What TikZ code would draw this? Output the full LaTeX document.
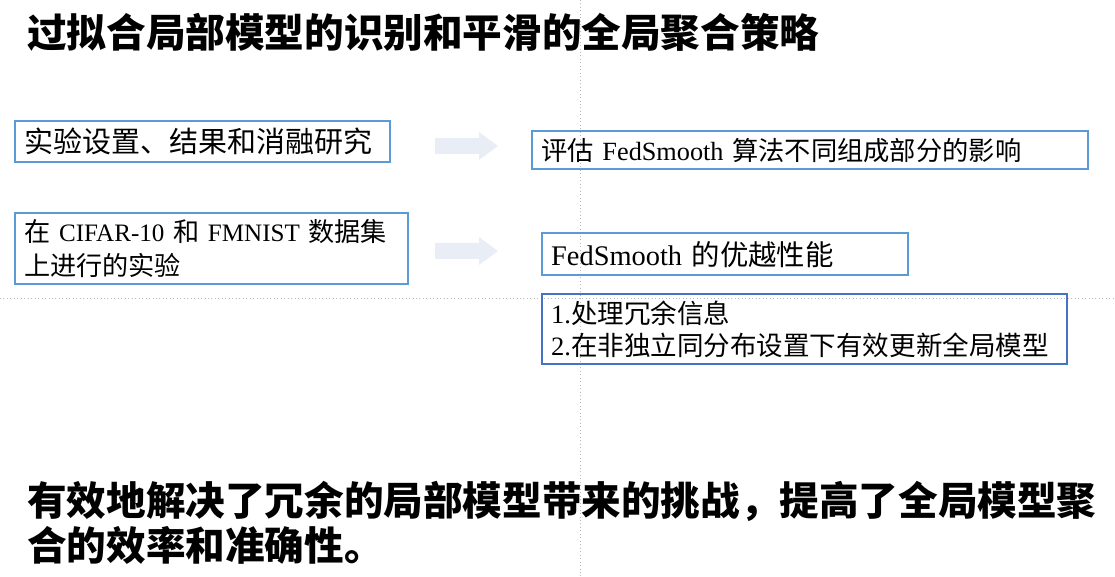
\documentclass[tikz,border=0pt]{standalone}
\usepackage{fontspec}
\setmainfont{Liberation Serif}
\newfontfamily\cjk{Noto Sans CJK SC}
\definecolor{boxblue}{HTML}{5B9BD5}
\definecolor{boxdark}{HTML}{4472C4}
\definecolor{arrowfill}{HTML}{E9EEF6}
\definecolor{guide}{HTML}{B8B8B8}
\newcommand\lat[1]{{\rmfamily #1}}
\tikzset{
  box/.style={draw=boxblue, line width=1.8pt, rectangle, anchor=north west,
    inner xsep=6.75pt, inner ysep=0pt, align=left},
  guideline/.style={draw=guide, dotted, line width=0.6pt},
  blockarrow/.style={fill=arrowfill, draw=none},
  bigtext/.style={inner sep=0pt, align=left, font=\cjk\bfseries\fontsize{29.7pt}{34pt}\selectfont}
}
\begin{document}
\begin{tikzpicture}[x=0.75pt,y=-0.75pt]
\useasboundingbox (0,0) rectangle (1115,577);
% guides
\draw[guideline] (580,0) -- (580,577);
\draw[guideline] (0,298) -- (1115,298);
% title
\node[bigtext, anchor=west] (title) at (27,32) {过拟合局部模型的识别和平滑的全局聚合策略};
% left boxes
\node[box, text width=267.75pt, minimum height=30.75pt,
  font=\cjk\fontsize{21.75pt}{26pt}\selectfont] (b1) at (14,120) {实验设置、结果和消融研究};
\node[box, text width=281.25pt, minimum height=53.25pt,
  font=\cjk\fontsize{19.6pt}{25.5pt}\selectfont] (b2) at (14,212)
  {在 \lat{\fontsize{18.8pt}{25.5pt}\selectfont CIFAR-10} 和 \lat{\fontsize{18.8pt}{25.5pt}\selectfont FMNIST} 数据集\\上进行的实验};
% right boxes
\node[box, text width=403.5pt, minimum height=28.5pt,
  font=\cjk\fontsize{19.7pt}{24pt}\selectfont] (b3) at (531,130)
  {评估 \lat{FedSmooth} 算法不同组成部分的影响};
\node[box, text width=261pt, minimum height=31.5pt,
  font=\cjk\fontsize{21.3pt}{26pt}\selectfont] (b4) at (541,232)
  {\lat{FedSmooth} 的优越性能};
\node[box, draw=boxdark, text width=380.25pt, minimum height=52.5pt,
  font=\cjk\fontsize{19.9pt}{24pt}\selectfont] (b5) at (541,293)
  {\lat{1.}处理冗余信息\\\lat{2.}在非独立同分布设置下有效更新全局模型};
% block arrows
\fill[blockarrow] (435,138) -- (479,138) -- (479,132) -- (498,146) -- (479,160) -- (479,154) -- (435,154) -- cycle;
\fill[blockarrow] (435,243) -- (479,243) -- (479,237) -- (498,251) -- (479,265) -- (479,259) -- (435,259) -- cycle;
% conclusion
\node[bigtext, anchor=north west] (concl) at (27,481)
  {有效地解决了冗余的局部模型带来的挑战，提高了全局模型聚\\合的效率和准确性。};
\end{tikzpicture}
\end{document}
